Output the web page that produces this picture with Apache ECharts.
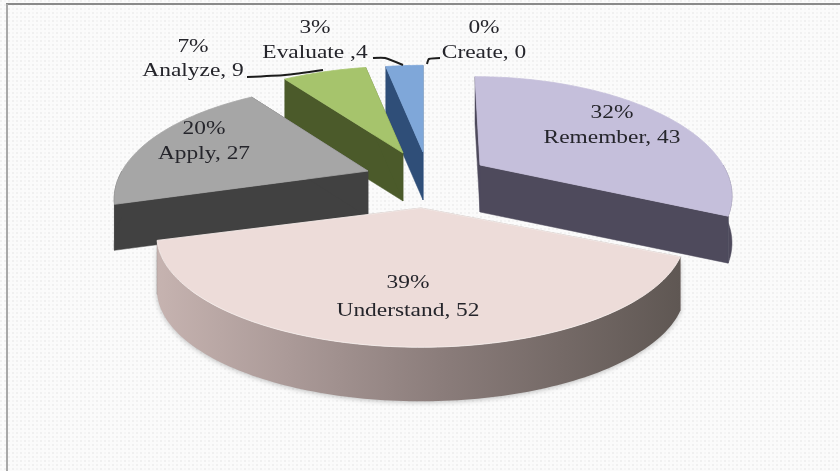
<!DOCTYPE html>
<html>
<head>
<meta charset="utf-8">
<style>html,body{margin:0;padding:0;background:#fff}#chart{width:840px;height:471px}</style>
<script src="https://cdn.jsdelivr.net/npm/echarts@6/dist/echarts.min.js"></script>
</head>
<body>
<div id="chart"></div>
<script>
// Bloom's taxonomy question counts, one entry per cognitive level.
const categories = ['Remember', 'Understand', 'Apply', 'Analyze', 'Evaluate', 'Create'];
const counts = [43, 52, 27, 9, 4, 0];
const countLabels = ['Remember, 43', 'Understand, 52', 'Apply, 27', 'Analyze, 9', 'Evaluate ,4', 'Create, 0'];

// Where each exploded wedge sits on the page and how it is painted.
const apexX = [480, 421, 368, 403, 423, 425];
const apexY = [165, 208, 171, 153, 152, 152];
const radiusX = [243, 256, 246, 250, 250, 250];
const radiusY = [110, 105, 108, 108, 108, 108];
const shear = [-5, 0, 0, 0, 0, 0];
const wallDepth = [47, 54, 46, 48, 48, 48];
const paintOrder = [3, 4, 2, 1, 0, 0];
const topColors = ['#c5bfdb', '#eddcd9', '#a6a6a6', '#a6c46c', '#7fa7d9', '#7fa7d9'];
const topEdges = ['#c5bfdb', '#f8f0ee', '#a6a6a6', '#a6c46c', '#7fa7d9', '#7fa7d9'];
const wallColors = ['#4e4a5c', '#8f817f', '#414141', '#4b5a2a', '#2f4e78', '#2f4e78'];
const labelX = [612, 408, 204, 193, 315, 484];
const labelY = [125, 297, 141, 59, 40, 40];
const labelLeading = [25, 28, 25, 24, 25, 25];

// Leader lines from the outer labels to their wedges.
const leaderLines = [
  [[247, 77], [285, 75], [323, 70]],
  [[373, 58], [385, 58], [403, 65]],
  [[427, 64], [429, 59], [440, 58]]
];

const PERSPECTIVE = 0.246;
const total = counts.reduce((a, b) => a + b, 0);

// Angle of each wedge's edges, clockwise from twelve o'clock.
const startAngles = [];
counts.reduce((sum, v, i) => { startAngles[i] = sum / total * 2 * Math.PI; return sum + v; }, 0);

function project(i, theta, r) {
  const X = Math.sin(theta) * r, Z = Math.cos(theta) * r;
  const d = 1 + PERSPECTIVE * Z;
  return [apexX[i] + radiusX[i] * X / d + shear[i] * Z, apexY[i] - radiusY[i] * Z / d];
}

function arcPoints(i, a0, a1) {
  const pts = [];
  const n = Math.max(2, Math.ceil((a1 - a0) / 0.02));
  for (let k = 0; k <= n; k++) pts.push(project(i, a0 + (a1 - a0) * k / n, 1));
  return pts;
}

function dropped(p, h) { return [p[0], p[1] + h]; }

function renderSlice(params, api) {
  const i = params.dataIndex;
  const value = api.value(0);
  const children = [];
  const base = paintOrder[i] * 10;
  const a0 = startAngles[i];
  const a1 = a0 + value / total * 2 * Math.PI;
  const h = wallDepth[i];
  const apex = project(i, 0, 0);

  if (value > 0) {
    const arc = arcPoints(i, a0, a1);
    const radial = [arc[0], arc[arc.length - 1]];
    // Cut faces of the wedge, running from the apex to the rim.
    radial.forEach(p => {
      children.push({
        type: 'polygon', z2: base,
        shape: { points: [apex, p, dropped(p, h), dropped(apex, h)] },
        style: { fill: wallColors[i], stroke: wallColors[i], lineWidth: 0.5 }
      });
    });
    // Rim wall: only the part of the arc on the near half is visible.
    const nearStart = Math.max(a0, Math.PI / 2);
    const nearEnd = Math.min(a1, Math.PI * 1.5);
    if (nearEnd > nearStart) {
      const rim = arcPoints(i, nearStart, nearEnd);
      const poly = rim.concat(rim.map(p => dropped(p, h)).reverse());
      const isUnderstand = categories[i] === 'Understand';
      children.push({
        type: 'polygon', z2: base + 1,
        shape: { points: poly },
        style: isUnderstand ? {
          fill: new echarts.graphic.LinearGradient(1, 0, 0, 0, [
            { offset: 0, color: '#5f5753' },
            { offset: 0.45, color: '#8a7c7a' },
            { offset: 0.75, color: '#ab9a98' },
            { offset: 1, color: '#c6b3b0' }
          ]),
          shadowBlur: 5,
          shadowColor: 'rgba(0,0,0,0.25)',
          shadowOffsetY: 1
        } : { fill: wallColors[i], stroke: wallColors[i], lineWidth: 0.5 }
      });
    }
    // Top face of the wedge.
    children.push({
      type: 'polygon', z2: base + 2,
      shape: { points: [apex].concat(arc) },
      style: { fill: topColors[i], stroke: topEdges[i], lineWidth: 0.8 }
    });
  }

  const pct = Math.round(value / total * 100) + '%';
  children.push({
    type: 'text', z2: 100,
    x: labelX[i], y: labelY[i],
    scaleX: 1.2,
    style: {
      text: pct + '\n' + countLabels[i],
      fill: '#25252b',
      font: '19.5px "Liberation Serif", "Times New Roman", serif',
      lineHeight: labelLeading[i],
      align: 'center',
      verticalAlign: 'middle'
    }
  });
  return { type: 'group', children };
}

// Faint dotted paper texture behind the chart.
function dottedTile() {
  const c = document.createElement('canvas');
  c.width = c.height = 8;
  const g = c.getContext('2d');
  g.fillStyle = '#fbfbfb';
  g.fillRect(0, 0, 8, 8);
  g.fillStyle = '#f0f0f0';
  [[0, 0], [4, 4]].forEach(p => g.fillRect(p[0], p[1], 2, 2));
  g.fillStyle = '#f5f5f5';
  [[4, 0], [0, 4]].forEach(p => g.fillRect(p[0], p[1], 2, 2));
  return c;
}

const chart = echarts.init(document.getElementById('chart'), null, { renderer: 'canvas' });
chart.setOption({
  animation: false,
  backgroundColor: { image: dottedTile(), repeat: 'repeat' },
  graphic: [
    { type: 'line', z: 1, shape: { x1: 6, y1: 4, x2: 840, y2: 4 }, style: { stroke: '#8a8a8a', lineWidth: 2 } },
    { type: 'line', z: 1, shape: { x1: 7, y1: 4, x2: 7, y2: 471 }, style: { stroke: '#a8a8a8', lineWidth: 2 } }
  ].concat(leaderLines.map(points => ({
    type: 'polyline', z: 20,
    shape: { points, smooth: 0.2 },
    style: { stroke: '#1c1c1c', lineWidth: 2, fill: 'none' }
  }))),
  series: [{
    type: 'custom',
    coordinateSystem: 'none',
    renderItem: renderSlice,
    encode: { value: 0 },
    data: counts.map((v, i) => ({ name: categories[i], value: [v] }))
  }]
});
</script>
</body>
</html>
